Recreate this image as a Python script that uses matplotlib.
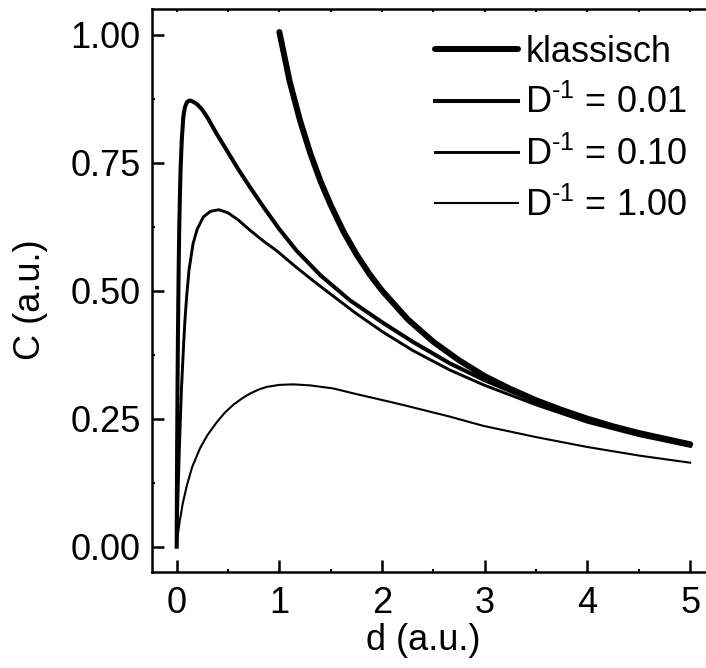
import matplotlib
matplotlib.use("Agg")
import matplotlib.pyplot as plt
from matplotlib.ticker import MultipleLocator, FormatStrFormatter

plt.rcParams['font.family'] = ['Liberation Sans', 'DejaVu Sans']
plt.rcParams['mathtext.fontset'] = 'custom'
plt.rcParams['mathtext.rm'] = 'Liberation Sans'
plt.rcParams['mathtext.it'] = 'Liberation Sans:italic'

# ---- data ----
d_klassisch = [1.0, 1.1, 1.2, 1.3, 1.4, 1.5, 1.625, 1.75, 1.875, 2.0, 2.25, 2.5, 2.75,
               3.0, 3.25, 3.5, 3.75, 4.0, 4.25, 4.5, 4.75, 5.0]
C_klassisch = [1.005, 0.909, 0.833, 0.769, 0.714, 0.667, 0.615, 0.571, 0.533, 0.500,
               0.444, 0.400, 0.364, 0.333, 0.308, 0.286, 0.267, 0.250, 0.235, 0.222,
               0.211, 0.200]

d_D001 = [0.0, 0.004, 0.008, 0.012, 0.016, 0.02, 0.025, 0.032, 0.039, 0.05, 0.065,
          0.08, 0.1, 0.12, 0.136, 0.16, 0.2, 0.25, 0.3, 0.39, 0.5, 0.6, 0.714, 0.85,
          1.0, 1.168, 1.4, 1.688, 2.01, 2.3, 2.66, 3.0, 3.5, 4.0, 4.5, 5.0]
C_D001 = [0.0, 0.17, 0.30, 0.40, 0.48, 0.55, 0.62, 0.69, 0.741, 0.795, 0.84,
          0.858, 0.868, 0.871, 0.871, 0.869, 0.864, 0.853, 0.838, 0.806, 0.77, 0.737,
          0.702, 0.662, 0.62, 0.578, 0.530, 0.481, 0.437, 0.400, 0.358, 0.325, 0.283,
          0.247, 0.220, 0.198]

d_D010 = [0.0, 0.01, 0.026, 0.045, 0.065, 0.08, 0.097, 0.12, 0.16, 0.2, 0.26, 0.33,
          0.412, 0.5, 0.6, 0.714, 0.85, 0.974, 1.15, 1.363, 1.52, 1.75, 2.01, 2.3,
          2.66, 3.0, 3.5, 4.0, 4.5, 5.0]
C_D010 = [0.0, 0.08, 0.19, 0.30, 0.384, 0.44, 0.488, 0.54, 0.592, 0.62, 0.644, 0.655,
          0.658, 0.652, 0.638, 0.618, 0.596, 0.578, 0.548, 0.514, 0.490, 0.455, 0.419,
          0.383, 0.345, 0.315, 0.277, 0.243, 0.217, 0.196]

d_D100 = [0.0, 0.01, 0.03, 0.06, 0.1, 0.15, 0.227, 0.3, 0.39, 0.47, 0.551, 0.64,
          0.714, 0.8, 0.876, 1.0, 1.136, 1.3, 1.525, 1.75, 2.01, 2.2, 2.4, 2.66,
          2.985, 3.5, 3.99, 4.5, 5.0]
C_D100 = [0.0, 0.022, 0.05, 0.085, 0.12, 0.155, 0.192, 0.218, 0.243, 0.262, 0.277,
          0.29, 0.299, 0.307, 0.312, 0.316, 0.317, 0.315, 0.309, 0.298, 0.286, 0.277,
          0.267, 0.254, 0.236, 0.214, 0.195, 0.178, 0.164]

labels = ['klassisch', r'D$^{\text{-1}}$ = 0.01',
          r'D$^{\text{-1}}$ = 0.10', r'D$^{\text{-1}}$ = 1.00']
x_ticks = [0, 1, 2, 3, 4, 5]
y_ticks = [0.0, 0.25, 0.5, 0.75, 1.0]

W, H = 706, 668
fig = plt.figure(figsize=(W / 100, H / 100), dpi=100)
left_px, right_px, top_px, bot_px = 151.7, 721.0, 9.0, 572.3
ax = fig.add_axes([left_px / W, (H - bot_px) / H, (right_px - left_px) / W,
                   (bot_px - top_px) / H])

ax.plot(d_klassisch, C_klassisch, color='black', lw=4.3, solid_capstyle='round',
        label=labels[0])
ax.plot(d_D001, C_D001, color='black', lw=2.9, label=labels[1])
ax.plot(d_D010, C_D010, color='black', lw=2.1, label=labels[2])
ax.plot(d_D100, C_D100, color='black', lw=1.5, label=labels[3])

ax.set_xlim(-0.243, 5.3)
ax.set_ylim(-0.05, 1.05)

for s in ['left', 'bottom', 'top']:
    ax.spines[s].set_linewidth(1.8)
ax.spines['right'].set_visible(False)

FS = 26
ax.set_xticks(x_ticks)
ax.set_yticks(y_ticks)
ax.yaxis.set_major_formatter(FormatStrFormatter('%.2f'))
ax.xaxis.set_minor_locator(MultipleLocator(0.5))
ax.yaxis.set_minor_locator(MultipleLocator(0.125))
ax.tick_params(axis='both', which='major', direction='in', length=8.6, width=1.8,
               labelsize=FS)
ax.tick_params(axis='x', which='major', pad=10)
ax.tick_params(axis='y', which='major', pad=8)
ax.tick_params(axis='both', which='minor', direction='in', length=2.5, width=1.5)
ax.tick_params(top=False, right=False, which='both')

# small ticks on top spine
sec = ax.secondary_xaxis('top')
sec.set_xticks([0, 0.5, 1, 1.5, 2, 2.5, 3, 3.5, 4, 4.5, 5])
sec.tick_params(direction='in', length=2.5, width=1.5, labeltop=False)
sec.spines['top'].set_visible(False)

ax.set_xlabel('d (a.u.)', fontsize=FS)
ax.set_ylabel('C (a.u.)', fontsize=FS)
axw = right_px - left_px
axh = bot_px - top_px
ax.xaxis.set_label_coords((423 - left_px) / axw, (bot_px - 623) / axh)
ax.yaxis.set_label_coords((48 - left_px) / axw, (bot_px - 300) / axh)

leg = ax.legend(loc='upper left', bbox_to_anchor=(435 / W, 1 - 35 / H),
                bbox_transform=fig.transFigure, frameon=False, fontsize=FS,
                handlelength=2.3, handletextpad=0.2, labelspacing=0.42,
                borderpad=0, borderaxespad=0)

fig.savefig('out.png', dpi=100)
